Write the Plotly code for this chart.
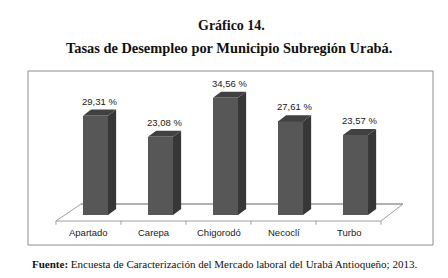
import plotly.graph_objects as go

municipios = ["Apartado", "Carepa", "Chigorodó", "Necoclí", "Turbo"]
tasas = [29.31, 23.08, 34.56, 27.61, 23.57]
etiquetas = ["29,31 %", "23,08 %", "34,56 %", "27,61 %", "23,57 %"]

titulo1 = "Gráfico 14."
titulo2 = "Tasas de Desempleo por Municipio Subregión Urabá."
fuente_b = "Fuente:"
fuente_t = " Encuesta de Caracterización del Mercado laboral del Urabá Antioqueño; 2013."

# 3D look parameters (in data units)
W = 0.385   # front face width
DX = 0.125  # depth horizontal
DY = 1.8    # depth vertical

FRONT = "#575757"
SIDE = "#373737"
TOP = "#414141"

xs = list(range(len(municipios)))
fig = go.Figure()

fig.add_trace(go.Bar(x=xs, y=tasas, width=W, marker=dict(color=FRONT, line=dict(width=0)),
                     hoverinfo="skip", showlegend=False))

for i, v in zip(xs, tasas):
    r = i + W / 2
    l = i - W / 2
    fig.add_trace(go.Scatter(x=[r, r + DX, r + DX, r, r], y=[0, DY, v + DY, v, 0],
                             fill="toself", fillcolor=SIDE, mode="lines",
                             line=dict(width=0, color=SIDE), hoverinfo="skip", showlegend=False))
    fig.add_trace(go.Scatter(x=[l, l + DX, r + DX, r, l], y=[v, v + DY, v + DY, v, v],
                             fill="toself", fillcolor=TOP, mode="lines",
                             line=dict(width=0, color=TOP), hoverinfo="skip", showlegend=False))

# floor (axis decoration)
fx0, fx1 = -0.608, 4.392
bx0, bx1 = -0.223, 4.731
fy, by = -1.77, 3.24
shapes = [
    dict(type="rect", xref="paper", yref="paper", x0=0, x1=1, y0=0, y1=1,
         line=dict(color="#8c8c8c", width=1), layer="below"),
    dict(type="line", xref="x", yref="y", x0=bx0, x1=bx1, y0=by, y1=by,
         line=dict(color="#b0b0b0", width=2), layer="below"),
    dict(type="line", xref="x", yref="y", x0=fx0, x1=fx1, y0=fy, y1=fy,
         line=dict(color="#a0a0a0", width=1), layer="below"),
    dict(type="line", xref="x", yref="y", x0=fx0, x1=bx0, y0=fy, y1=by,
         line=dict(color="#a0a0a0", width=1), layer="below"),
    dict(type="line", xref="x", yref="y", x0=fx1, x1=bx1, y0=fy, y1=by,
         line=dict(color="#a0a0a0", width=1), layer="below"),
]
for k in range(len(municipios) + 1):
    tx = fx0 + k
    shapes.append(dict(type="line", xref="x", yref="y", x0=tx, x1=tx, y0=fy, y1=fy - 1.1,
                       line=dict(color="#a0a0a0", width=1), layer="below"))

ann = []
for i, (v, t) in enumerate(zip(tasas, etiquetas)):
    ann.append(dict(x=i + DX / 2, y=v + DY, text=t, showarrow=False, xref="x", yref="y",
                    yanchor="bottom", yshift=1,
                    font=dict(family="Liberation Sans", size=9.5, color="#1a1a1a")))
for i, m in enumerate(municipios):
    ann.append(dict(x=i - 0.1, y=-5.3, text=m, showarrow=False, xref="x", yref="y",
                    yanchor="middle",
                    font=dict(family="Liberation Sans", size=9.5, color="#1a1a1a")))

ann.append(dict(x=(223 - 20) / 405, y=(237 - 17) / 174, xref="paper", yref="paper",
                text="<b>" + titulo1 + "</b>", showarrow=False, xanchor="center", yanchor="middle",
                font=dict(family="Liberation Serif", size=14, color="#111111")))
ann.append(dict(x=(221 - 20) / 405, y=(237 - 40) / 174, xref="paper", yref="paper",
                text="<b>" + titulo2 + "</b>", showarrow=False, xanchor="center", yanchor="middle",
                font=dict(family="Liberation Serif", size=14.4, color="#111111")))
ann.append(dict(x=(22 - 20) / 405, y=(237 - 256) / 174, xref="paper", yref="paper",
                text="<b>" + fuente_b + "</b>" + fuente_t, showarrow=False, xanchor="left",
                yanchor="middle",
                font=dict(family="Liberation Serif", size=11, color="#111111")))

fig.update_layout(
    width=448, height=278,
    margin=dict(l=20, r=23, t=63, b=41),
    paper_bgcolor="white", plot_bgcolor="white",
    xaxis=dict(range=[-1.038, 5.192], visible=False, fixedrange=True),
    yaxis=dict(range=[-8.85, 42.48], visible=False, fixedrange=True),
    shapes=shapes, annotations=ann, showlegend=False, bargap=0,
)

fig.write_html("out.html", config={"displayModeBar": False})
